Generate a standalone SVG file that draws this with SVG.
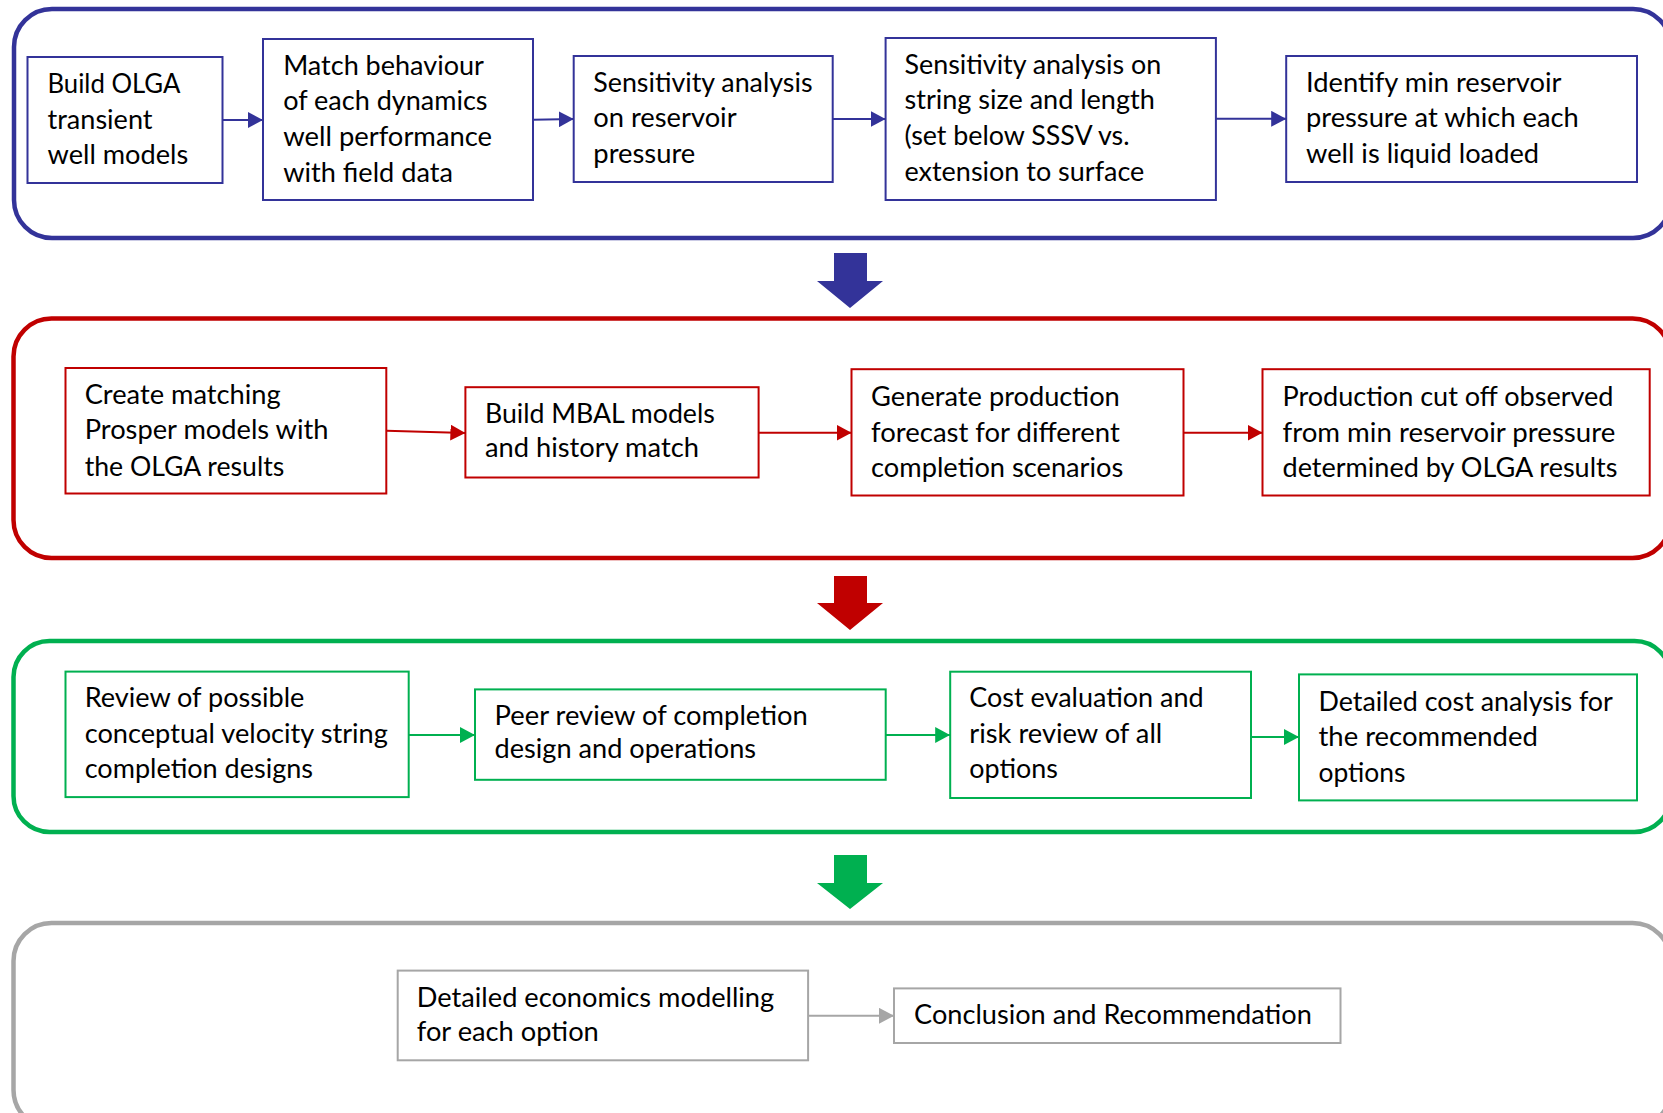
<svg xmlns="http://www.w3.org/2000/svg" width="1663" height="1113" viewBox="0 0 1663 1113">
<style>
text{font-family:Lato,"Open Sans","Liberation Sans",sans-serif;font-size:26px;fill:#000}
.box{fill:#fff;stroke-width:2}
.ctr{fill:none;stroke-width:4.5}
.cn{fill:none;stroke-width:2}
.b{stroke:#333399}.r{stroke:#C00000}.g{stroke:#00B050}.k{stroke:#A6A6A6}
</style>
<defs>
<marker id="mb" viewBox="0 0 15 16" markerWidth="15" markerHeight="16" refX="15" refY="8" markerUnits="userSpaceOnUse" orient="auto"><path d="M0,0 L15,8 L0,16 z" fill="#333399"/></marker>
<marker id="mr" viewBox="0 0 15 16" markerWidth="15" markerHeight="16" refX="15" refY="8" markerUnits="userSpaceOnUse" orient="auto"><path d="M0,0 L15,8 L0,16 z" fill="#C00000"/></marker>
<marker id="mg" viewBox="0 0 15 16" markerWidth="15" markerHeight="16" refX="15" refY="8" markerUnits="userSpaceOnUse" orient="auto"><path d="M0,0 L15,8 L0,16 z" fill="#00B050"/></marker>
<marker id="mk" viewBox="0 0 15 16" markerWidth="15" markerHeight="16" refX="15" refY="8" markerUnits="userSpaceOnUse" orient="auto"><path d="M0,0 L15,8 L0,16 z" fill="#A6A6A6"/></marker>
</defs>
<rect width="1663" height="1113" fill="#fff"/>

<g id="containers">
<rect id="stage1" class="ctr b" x="14" y="9" width="1657" height="229" rx="38"/>
<rect id="stage2" class="ctr r" x="13.5" y="318.5" width="1657" height="239.5" rx="38"/>
<rect id="stage3" class="ctr g" x="13.5" y="641" width="1657" height="191" rx="36"/>
<rect id="stage4" class="ctr k" x="13.5" y="923" width="1657" height="205" rx="38"/>
</g>

<g id="stage-arrows">
<path d="M834,253 L867,253 L867,281 L883,281 L850,308 L817,281 L834,281 z" fill="#333399"/>
<path d="M834,576 L867,576 L867,603 L883,603 L850,630 L817,603 L834,603 z" fill="#C00000"/>
<path d="M834,855 L867,855 L867,883 L883,883 L850,909 L817,883 L834,883 z" fill="#00B050"/>
</g>

<g id="connectors">
<line class="cn b" x1="222.5" y1="120" x2="263" y2="120" marker-end="url(#mb)"/>
<line class="cn b" x1="533" y1="119.8" x2="573.7" y2="119" marker-end="url(#mb)"/>
<line class="cn b" x1="832.7" y1="119" x2="885.6" y2="119" marker-end="url(#mb)"/>
<line class="cn b" x1="1216" y1="118.8" x2="1286.2" y2="118.8" marker-end="url(#mb)"/>
<line class="cn r" x1="386.3" y1="430.7" x2="465.4" y2="433" marker-end="url(#mr)"/>
<line class="cn r" x1="758.6" y1="432.7" x2="851.5" y2="432.7" marker-end="url(#mr)"/>
<line class="cn r" x1="1183.5" y1="432.7" x2="1262.5" y2="432.7" marker-end="url(#mr)"/>
<line class="cn g" x1="408.7" y1="735" x2="475" y2="735" marker-end="url(#mg)"/>
<line class="cn g" x1="885.7" y1="735" x2="950.2" y2="735" marker-end="url(#mg)"/>
<line class="cn g" x1="1251" y1="737" x2="1299" y2="737" marker-end="url(#mg)"/>
<line class="cn k" x1="808.1" y1="1015.8" x2="894" y2="1015.8" marker-end="url(#mk)"/>
</g>

<g id="n1">
<rect class="box b" x="27.5" y="57" width="195" height="126"/>
<text x="47.5" y="93.3" textLength="132.9" lengthAdjust="spacingAndGlyphs">Build OLGA</text>
<text x="47.5" y="128.8" textLength="105" lengthAdjust="spacingAndGlyphs">transient</text>
<text x="47.5" y="164.3" textLength="140.7" lengthAdjust="spacingAndGlyphs">well models</text>
</g>
<g id="n2">
<rect class="box b" x="263" y="39" width="270" height="161"/>
<text x="283.2" y="74.5" textLength="200.7" lengthAdjust="spacingAndGlyphs">Match behaviour</text>
<text x="283.2" y="110" textLength="204.3" lengthAdjust="spacingAndGlyphs">of each dynamics</text>
<text x="283.2" y="146" textLength="208.9" lengthAdjust="spacingAndGlyphs">well performance</text>
<text x="283.2" y="181.5" textLength="169.7" lengthAdjust="spacingAndGlyphs">with field data</text>
</g>
<g id="n3">
<rect class="box b" x="573.7" y="56" width="259" height="126"/>
<text x="593.3" y="91.7" textLength="219.2" lengthAdjust="spacingAndGlyphs">Sensitivity analysis</text>
<text x="593.3" y="127.3" textLength="143.3" lengthAdjust="spacingAndGlyphs">on reservoir</text>
<text x="593.3" y="162.5" textLength="102" lengthAdjust="spacingAndGlyphs">pressure</text>
</g>
<g id="n4">
<rect class="box b" x="885.6" y="38" width="330.3" height="162"/>
<text x="904.5" y="73.5" textLength="256.7" lengthAdjust="spacingAndGlyphs">Sensitivity analysis on</text>
<text x="904.5" y="109" textLength="250.3" lengthAdjust="spacingAndGlyphs">string size and length</text>
<text x="904.5" y="145" textLength="225" lengthAdjust="spacingAndGlyphs">(set below SSSV vs.</text>
<text x="904.5" y="180.5" textLength="239.8" lengthAdjust="spacingAndGlyphs">extension to surface</text>
</g>
<g id="n5">
<rect class="box b" x="1286.2" y="56" width="350.8" height="126"/>
<text x="1306" y="91.7" textLength="255.5" lengthAdjust="spacingAndGlyphs">Identify min reservoir</text>
<text x="1306" y="127.3" textLength="272.8" lengthAdjust="spacingAndGlyphs">pressure at which each</text>
<text x="1306" y="163.3" textLength="233" lengthAdjust="spacingAndGlyphs">well is liquid loaded</text>
</g>

<g id="n6">
<rect class="box r" x="65.5" y="368" width="320.8" height="125.5"/>
<text x="84.7" y="403.5" textLength="196" lengthAdjust="spacingAndGlyphs">Create matching</text>
<text x="84.7" y="439.3" textLength="243.8" lengthAdjust="spacingAndGlyphs">Prosper models with</text>
<text x="84.7" y="475.5" textLength="199.6" lengthAdjust="spacingAndGlyphs">the OLGA results</text>
</g>
<g id="n7">
<rect class="box r" x="465.4" y="387.2" width="293.2" height="90.3"/>
<text x="485" y="423.3" textLength="229.8" lengthAdjust="spacingAndGlyphs">Build MBAL models</text>
<text x="485" y="457" textLength="213.9" lengthAdjust="spacingAndGlyphs">and history match</text>
</g>
<g id="n8">
<rect class="box r" x="851.5" y="369.2" width="332" height="126.3"/>
<text x="871.1" y="406" textLength="248.7" lengthAdjust="spacingAndGlyphs">Generate production</text>
<text x="871.1" y="441.7" textLength="248.7" lengthAdjust="spacingAndGlyphs">forecast for different</text>
<text x="871.1" y="476.7" textLength="252.2" lengthAdjust="spacingAndGlyphs">completion scenarios</text>
</g>
<g id="n9">
<rect class="box r" x="1262.5" y="369.2" width="387.2" height="126.3"/>
<text x="1282.5" y="406" textLength="331" lengthAdjust="spacingAndGlyphs">Production cut off observed</text>
<text x="1282.5" y="441.7" textLength="332.8" lengthAdjust="spacingAndGlyphs">from min reservoir pressure</text>
<text x="1282.5" y="476.7" textLength="335" lengthAdjust="spacingAndGlyphs">determined by OLGA results</text>
</g>

<g id="n10">
<rect class="box g" x="65.5" y="671.6" width="343.2" height="125.5"/>
<text x="84.7" y="707.3" textLength="219.7" lengthAdjust="spacingAndGlyphs">Review of possible</text>
<text x="84.7" y="742.7" textLength="303.2" lengthAdjust="spacingAndGlyphs">conceptual velocity string</text>
<text x="84.7" y="778.3" textLength="228.4" lengthAdjust="spacingAndGlyphs">completion designs</text>
</g>
<g id="n11">
<rect class="box g" x="475" y="689.4" width="410.7" height="90.4"/>
<text x="494.6" y="725" textLength="313.2" lengthAdjust="spacingAndGlyphs">Peer review of completion</text>
<text x="494.6" y="758.3" textLength="261.5" lengthAdjust="spacingAndGlyphs">design and operations</text>
</g>
<g id="n12">
<rect class="box g" x="950.2" y="671.7" width="300.8" height="126.3"/>
<text x="969.3" y="707.3" textLength="234.3" lengthAdjust="spacingAndGlyphs">Cost evaluation and</text>
<text x="969.3" y="742.7" textLength="193" lengthAdjust="spacingAndGlyphs">risk review of all</text>
<text x="969.3" y="778.3" textLength="88.5" lengthAdjust="spacingAndGlyphs">options</text>
</g>
<g id="n13">
<rect class="box g" x="1299" y="674.4" width="338" height="126"/>
<text x="1318.5" y="710.7" textLength="294.4" lengthAdjust="spacingAndGlyphs">Detailed cost analysis for</text>
<text x="1318.5" y="746" textLength="219.3" lengthAdjust="spacingAndGlyphs">the recommended</text>
<text x="1318.5" y="781.7" textLength="87" lengthAdjust="spacingAndGlyphs">options</text>
</g>

<g id="n14">
<rect class="box k" x="397.7" y="970.6" width="410.4" height="89.7"/>
<text x="416.8" y="1006.5" textLength="357.4" lengthAdjust="spacingAndGlyphs">Detailed economics modelling</text>
<text x="416.8" y="1040.5" textLength="182" lengthAdjust="spacingAndGlyphs">for each option</text>
</g>
<g id="n15">
<rect class="box k" x="894" y="988.4" width="446.5" height="54.6"/>
<text x="914.1" y="1023.5" textLength="397.7" lengthAdjust="spacingAndGlyphs">Conclusion and Recommendation</text>
</g>
</svg>
